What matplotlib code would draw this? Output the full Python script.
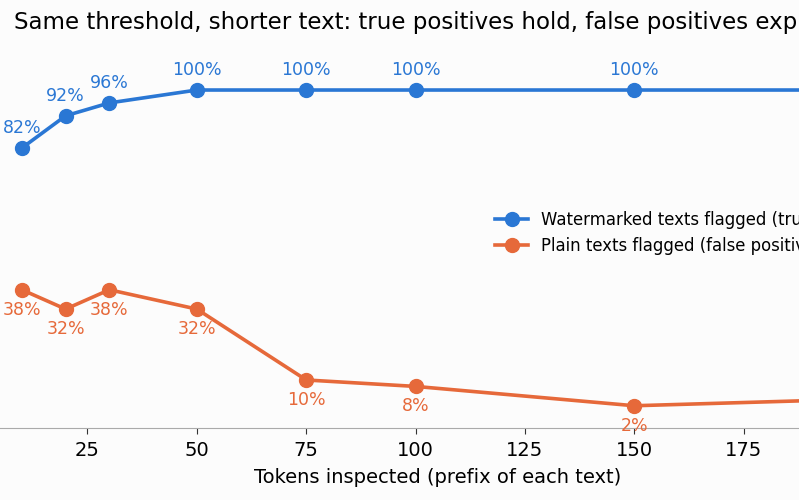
import matplotlib.pyplot as plt

# Detection rate by number of tokens inspected
tokens = [10, 20, 30, 50, 75, 100, 150, 200]
watermarked_pct = [82, 92, 96, 100, 100, 100, 100, 100]
plain_pct = [38, 32, 38, 32, 10, 8, 2, 4]
labeled_tokens = [10, 20, 30, 50, 75, 100, 150]

blue = '#2a77d4'
orange = '#e6693a'
bg = '#fcfcfc'

fig = plt.figure(figsize=(7.99, 5.0), dpi=100, facecolor=bg)
# axes run past the right edge of the picture, like the reference crop
ax = fig.add_axes([0.0, 0.1434, 1.095, 0.741])
ax.set_facecolor(bg)

ax.plot(tokens, watermarked_pct, color=blue, lw=2.6, marker='o', ms=10,
        label='Watermarked texts flagged (true positives)')
ax.plot(tokens, plain_pct, color=orange, lw=2.6, marker='o', ms=10,
        label='Plain texts flagged (false positives)')

for x, y in zip(tokens, watermarked_pct):
    if x in labeled_tokens:
        ax.annotate(f'{y}%', (x, y), xytext=(0, 14.4), textcoords='offset points',
                    ha='center', va='center', color=blue, fontsize=12.5)
for x, y in zip(tokens, plain_pct):
    if x in labeled_tokens:
        ax.annotate(f'{y}%', (x, y), xytext=(0, -14.4), textcoords='offset points',
                    ha='center', va='center', color=orange, fontsize=12.5)

ax.set_xlim(5, 205)
ax.set_ylim(-5, 110)
ax.set_xticks([25, 50, 75, 100, 125, 150, 175, 200])
ax.set_yticks([])
for side in ['top', 'right', 'left']:
    ax.spines[side].set_visible(False)
ax.spines['bottom'].set_color('#aaaaaa')
ax.tick_params(axis='x', labelsize=14, color='#333333', length=4, pad=5)
ax.set_xlabel('Tokens inspected (prefix of each text)', fontsize=14, labelpad=6)

ax.legend(loc='center left', bbox_to_anchor=(0.6195, 0.534), bbox_transform=fig.transFigure,
          frameon=False, fontsize=11.9, borderaxespad=0, borderpad=0)

fig.text(14 / 799, 1 - 22 / 500,
         'Same threshold, shorter text: true positives hold, false positives explode',
         ha='left', va='center', fontsize=16.5)

fig.savefig('out.png', dpi=100, facecolor=bg)
